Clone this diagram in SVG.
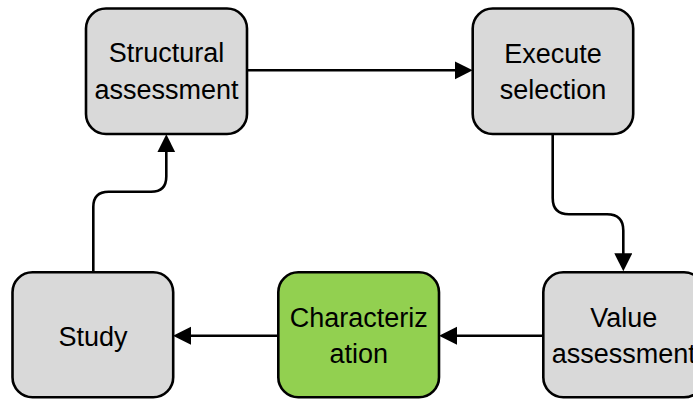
<svg xmlns="http://www.w3.org/2000/svg" width="693" height="399" viewBox="0 0 693 399">
<style>
.box{fill:#D9D9D9;stroke:#000;stroke-width:2.6}
.green{fill:#92D050}
.lbl{font-family:"Liberation Sans",Arial,sans-serif;font-size:27px;fill:#000;text-anchor:middle}
.conn{fill:none;stroke:#000;stroke-width:2.6}
</style>
<defs>
<marker id="arr" markerUnits="userSpaceOnUse" markerWidth="20" markerHeight="20" refX="14" refY="9" orient="auto" viewBox="0 0 20 20">
<path d="M0,0 L18,9 L0,18 Z" fill="#000"/>
</marker>
</defs>
<g id="connectors">
<path class="conn" d="M247,70.3 H468.7" marker-end="url(#arr)"/>
<path class="conn" d="M552.7,134 V198 Q552.7,214.3 569,214.3 H607 Q623.3,214.3 623.3,230.6 V267.3" marker-end="url(#arr)"/>
<path class="conn" d="M543,335.7 H443" marker-end="url(#arr)"/>
<path class="conn" d="M278,335.7 H177" marker-end="url(#arr)"/>
<path class="conn" d="M93.3,272 V207 Q93.3,191.7 108.6,191.7 H151 Q166.3,191.7 166.3,176.4 V138.3" marker-end="url(#arr)"/>
</g>
<g id="structural">
<rect class="box" x="86" y="8.5" width="161" height="125.5" rx="20"/>
<text class="lbl" x="166.5" y="62.3">Structural</text>
<text class="lbl" x="166.5" y="98.5">assessment</text>
</g>
<g id="execute">
<rect class="box" x="472.7" y="8.5" width="160.5" height="125.5" rx="20"/>
<text class="lbl" x="553" y="62.5">Execute</text>
<text class="lbl" x="553" y="98.5">selection</text>
</g>
<g id="study">
<rect class="box" x="12.5" y="272.3" width="160.7" height="125" rx="20"/>
<text class="lbl" x="93" y="345.7">Study</text>
</g>
<g id="characterization">
<rect class="box green" x="278.3" y="272.3" width="160.7" height="125" rx="20"/>
<text class="lbl" x="358.7" y="326.7">Characteriz</text>
<text class="lbl" x="358.7" y="362.7">ation</text>
</g>
<g id="value">
<rect class="box" x="543.3" y="272.3" width="160.7" height="125" rx="20"/>
<text class="lbl" x="623.7" y="326.7">Value</text>
<text class="lbl" x="623.7" y="362.7">assessment</text>
</g>
</svg>
